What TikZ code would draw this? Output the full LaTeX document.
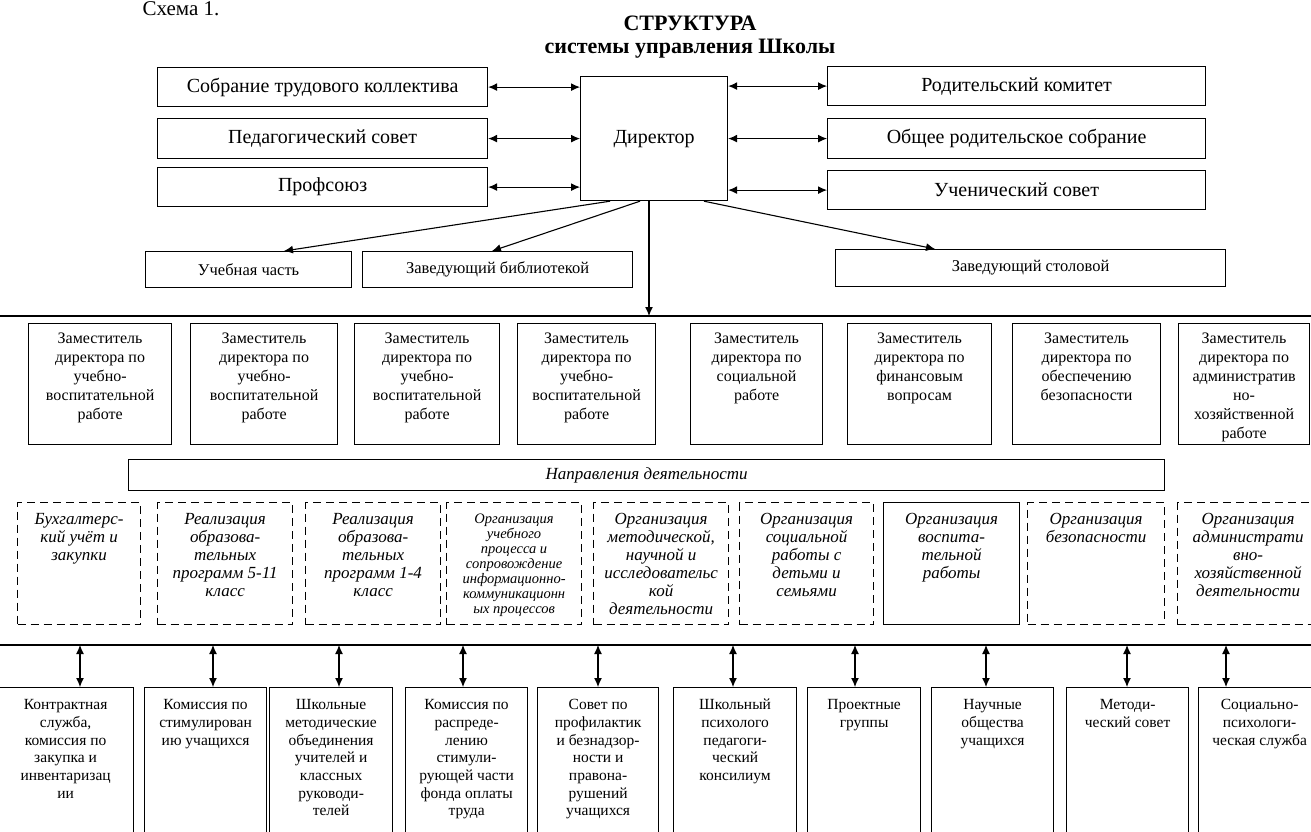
\documentclass[tikz,border=0pt]{standalone}
\usepackage{fontspec}
\setmainfont{Liberation Serif}
\usetikzlibrary{arrows.meta}

\newcommand{\fsCap}{\fontsize{21pt}{24pt}\selectfont}
\newcommand{\fsHead}{\fontsize{22pt}{26pt}\selectfont\bfseries}
\newcommand{\fsTop}{\fontsize{20pt}{24pt}\selectfont}
\newcommand{\fsMid}{\fontsize{16.5pt}{19pt}\selectfont}
\newcommand{\fsDep}{\fontsize{16pt}{19pt}\selectfont}
\newcommand{\fsWay}{\fontsize{17pt}{18pt}\selectfont\itshape}
\newcommand{\fsWaySm}{\fontsize{14.5pt}{15pt}\selectfont\itshape}
\newcommand{\fsBot}{\fontsize{15.5pt}{17.7pt}\selectfont}
% text hanging from the top of a box: width, height, first baseline, text
\newcommand{\boxtxt}[4]{\parbox[c][#2][t]{#1}{\centering\rule{0pt}{#3}#4}}

\tikzset{
  unit/.style={draw,line width=1.2pt,inner sep=0pt,anchor=north west},
  dunit/.style={unit,dash pattern=on 8pt off 5pt},
  link/.style={-{Latex[length=9pt,width=8pt]},line width=1.1pt},
  twoway/.style={{Latex[length=9pt,width=8pt]}-{Latex[length=9pt,width=8pt]},line width=1.1pt},
  sepline/.style={line width=2pt}
}

\begin{document}
\begin{tikzpicture}[x=1pt,y=-1pt]
    \useasboundingbox (0,0) rectangle (1311,832);
    \node[anchor=base west,font=\fsCap] (cap) at (139,16) {Схема 1.};
    \node[anchor=base,font=\fsHead] (ttl) at (690,31) {СТРУКТУРА};
    \node[anchor=base,font=\fsHead] (sub) at (690,54) {системы управления Школы};
    % councils round the director
    \node[unit,font=\fsTop] (sob)  at (157,67)  [minimum width=330pt,minimum height=39pt] {Собрание трудового коллектива};
    \node[unit,font=\fsTop] (ped)  at (157,118) [minimum width=330pt,minimum height=40pt] {Педагогический совет};
    \node[unit,font=\fsTop] (prof) at (157,167) [minimum width=330pt,minimum height=39pt] {Профсоюз};
    \node[unit,font=\fsTop] (dir)  at (580,76)  [minimum width=147pt,minimum height=124pt] {Директор};
    \node[unit,font=\fsTop] (rod)  at (827,66)  [minimum width=378pt,minimum height=39pt] {Родительский комитет};
    \node[unit,font=\fsTop] (obsh) at (827,118) [minimum width=378pt,minimum height=40pt] {Общее родительское собрание};
    \node[unit,font=\fsTop] (uchs) at (827,170) [minimum width=378pt,minimum height=39pt] {Ученический совет};
    % second row
    \node[unit,font=\fsMid] (uchch) at (145,251) [minimum width=206pt,minimum height=36pt] {Учебная часть};
    \node[unit,font=\fsMid] (bibl)  at (362,251) [minimum width=270pt,minimum height=36pt] {Заведующий библиотекой};
    \node[unit,font=\fsMid] (stol)  at (835,249) [minimum width=390pt,minimum height=37pt] {Заведующий столовой};
    \coordinate (l1a) at (-5,316);
    \coordinate (l1b) at (1316,316);
    \coordinate (t0)  at (649,316);
    \draw[sepline] (l1a) -- (l1b);
    % deputies
    \node[unit,font=\fsDep] (zam1) at (28,323)   {\boxtxt{143pt}{121pt}{19.5pt}{Заместитель\\директора по\\учебно-\\воспитательной\\работе}};
    \node[unit,font=\fsDep] (zam2) at (190,323)  {\boxtxt{147pt}{121pt}{19.5pt}{Заместитель\\директора по\\учебно-\\воспитательной\\работе}};
    \node[unit,font=\fsDep] (zam3) at (354,323)  {\boxtxt{145pt}{121pt}{19.5pt}{Заместитель\\директора по\\учебно-\\воспитательной\\работе}};
    \node[unit,font=\fsDep] (zam4) at (517,323)  {\boxtxt{138pt}{121pt}{19.5pt}{Заместитель\\директора по\\учебно-\\воспитательной\\работе}};
    \node[unit,font=\fsDep] (zam5) at (690,323)  {\boxtxt{132pt}{121pt}{19.5pt}{Заместитель\\директора по\\социальной\\работе}};
    \node[unit,font=\fsDep] (zam6) at (847,323)  {\boxtxt{144pt}{121pt}{19.5pt}{Заместитель\\директора по\\финансовым\\вопросам}};
    \node[unit,font=\fsDep] (zam7) at (1012,323) {\boxtxt{148pt}{121pt}{19.5pt}{Заместитель\\директора по\\обеспечению\\безопасности}};
    \node[unit,font=\fsDep] (zam8) at (1178,323) {\boxtxt{131pt}{121pt}{19.5pt}{Заместитель\\директора по\\административ\\но-\\хозяйственной\\работе}};
    \node[unit,font=\fsWay] (napr) at (128,459) [minimum width=1036pt,minimum height=31pt] {Направления деятельности};
    % directions of work
    \node[dunit,font=\fsWay]   (d1) at (17,502)   {\boxtxt{123pt}{122pt}{22pt}{Бухгалтерс-\\кий учёт и\\закупки}};
    \node[dunit,font=\fsWay]   (d2) at (157,502)  {\boxtxt{135pt}{122pt}{22pt}{Реализация\\образова-\\тельных\\программ 5-11\\класс}};
    \node[dunit,font=\fsWay]   (d3) at (305,502)  {\boxtxt{135pt}{122pt}{22pt}{Реализация\\образова-\\тельных\\программ 1-4\\класс}};
    \node[dunit,font=\fsWaySm] (d4) at (446,502)  {\boxtxt{135pt}{122pt}{21pt}{Организация\\учебного\\процесса и\\сопровождение\\информационно-\\коммуникационн\\ых процессов}};
    \node[dunit,font=\fsWay]   (d5) at (593,502)  {\boxtxt{135pt}{122pt}{22pt}{Организация\\методической,\\научной и\\исследовательс\\кой\\деятельности}};
    \node[dunit,font=\fsWay]   (d6) at (739,502)  {\boxtxt{134pt}{122pt}{22pt}{Организация\\социальной\\работы с\\детьми и\\семьями}};
    \node[unit,font=\fsWay]    (d7) at (883,502)  {\boxtxt{136pt}{122pt}{22pt}{Организация\\воспита-\\тельной\\работы}};
    \node[dunit,font=\fsWay]   (d8) at (1027,502) {\boxtxt{137pt}{122pt}{22pt}{Организация\\безопасности}};
    \node[dunit,font=\fsWay]   (d9) at (1177,502) {\boxtxt{141pt}{122pt}{22pt}{Организация\\администрати\\вно-\\хозяйственной\\деятельности}};
    \coordinate (l2a) at (-5,645);
    \coordinate (l2b) at (1316,645);
    \draw[sepline] (l2a) -- (l2b);
    % bodies at the bottom
    \node[unit,font=\fsBot] (b1)  at (-3,687)   {\boxtxt{136pt}{160pt}{22pt}{Контрактная\\служба,\\комиссия по\\закупка и\\инвентаризац\\ии}};
    \node[unit,font=\fsBot] (b2)  at (144,687)  {\boxtxt{122pt}{160pt}{22pt}{Комиссия по\\стимулирован\\ию учащихся}};
    \node[unit,font=\fsBot] (b3)  at (269,687)  {\boxtxt{123pt}{160pt}{22pt}{Школьные\\методические\\объединения\\учителей и\\классных\\руководи-\\телей}};
    \node[unit,font=\fsBot] (b4)  at (405,687)  {\boxtxt{122pt}{160pt}{22pt}{Комиссия по\\распреде-\\лению\\стимули-\\рующей части\\фонда оплаты\\труда}};
    \node[unit,font=\fsBot] (b5)  at (537,687)  {\boxtxt{121pt}{160pt}{22pt}{Совет по\\профилактик\\и безнадзор-\\ности и\\правона-\\рушений\\учащихся}};
    \node[unit,font=\fsBot] (b6)  at (673,687)  {\boxtxt{123pt}{160pt}{22pt}{Школьный\\психолого\\педагоги-\\ческий\\консилиум}};
    \node[unit,font=\fsBot] (b7)  at (807,687)  {\boxtxt{113pt}{160pt}{22pt}{Проектные\\группы}};
    \node[unit,font=\fsBot] (b8)  at (931,687)  {\boxtxt{122pt}{160pt}{22pt}{Научные\\общества\\учащихся}};
    \node[unit,font=\fsBot] (b9)  at (1066,687) {\boxtxt{122pt}{160pt}{22pt}{Методи-\\ческий совет}};
    \node[unit,font=\fsBot] (b10) at (1198,687) {\boxtxt{122pt}{160pt}{22pt}{Социально-\\психологи-\\ческая служба}};
    \coordinate (t1)  at (80,645);
    \coordinate (t2)  at (213,645);
    \coordinate (t3)  at (339,645);
    \coordinate (t4)  at (463,645);
    \coordinate (t5)  at (598,645);
    \coordinate (t6)  at (733,645);
    \coordinate (t7)  at (855,645);
    \coordinate (t8)  at (986,645);
    \coordinate (t9)  at (1127,645);
    \coordinate (t10) at (1226,645);
    % two-way links of the director
    \draw[twoway] (sob.east)  -- (sob.east -| dir.west);
    \draw[twoway] (ped.east)  -- (ped.east -| dir.west);
    \draw[twoway] (prof.east) -- (prof.east -| dir.west);
    \draw[twoway] (dir.east |- rod.west)  -- (rod.west);
    \draw[twoway] (dir.east |- obsh.west) -- (obsh.west);
    \draw[twoway] (dir.east |- uchs.west) -- (uchs.west);
    % down from the director
    \draw[link] ([xshift=30pt]dir.south west)  -- ([xshift=139pt]uchch.north west);
    \draw[link] ([xshift=60pt]dir.south west)  -- ([xshift=130pt]bibl.north west);
    \draw[link] ([xshift=124pt]dir.south west) -- ([xshift=100pt]stol.north west);
    \draw[link] (t0 |- dir.south) -- (t0);
    % bottom links
    \draw[twoway] (t1)  -- (t1 |- b1.north);
    \draw[twoway] (t2)  -- (t2 |- b2.north);
    \draw[twoway] (t3)  -- (t3 |- b3.north);
    \draw[twoway] (t4)  -- (t4 |- b4.north);
    \draw[twoway] (t5)  -- (t5 |- b5.north);
    \draw[twoway] (t6)  -- (t6 |- b6.north);
    \draw[twoway] (t7)  -- (t7 |- b7.north);
    \draw[twoway] (t8)  -- (t8 |- b8.north);
    \draw[twoway] (t9)  -- (t9 |- b9.north);
    \draw[twoway] (t10) -- (t10 |- b10.north);
\end{tikzpicture}
\end{document}
